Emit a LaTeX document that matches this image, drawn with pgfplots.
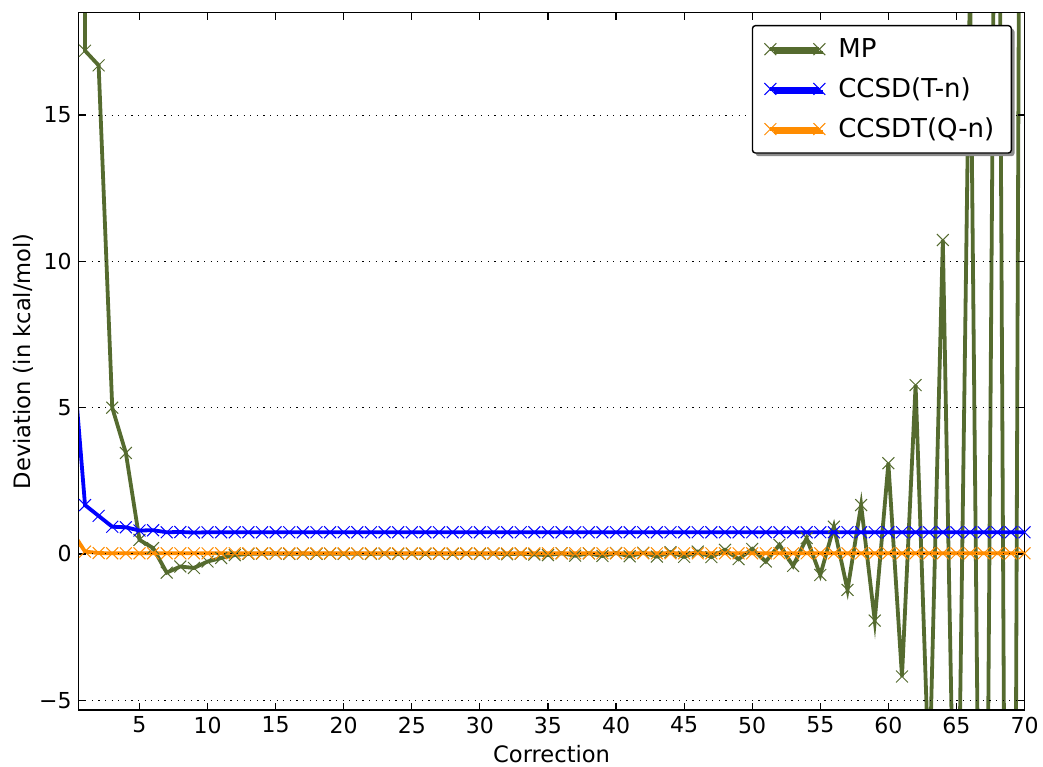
\documentclass[border=0pt]{standalone}
\usepackage{fontspec}
\setmainfont{DejaVu Sans}
\usepackage{pgfplots}
\usepackage{pgfplotstable}
\pgfplotsset{compat=1.18}
\usetikzlibrary{shadows}
\definecolor{mpgreen}{RGB}{85,107,47}
\definecolor{ccorange}{RGB}{255,140,0}

\pgfplotstableread{
x mp cc cq
0 200 7.4 0.8
1 17.2 1.67 0.08
2 16.7 1.30 0.03
3 5.0 0.93 0.02
4 3.45 0.91 0.02
5 0.48 0.80 0.02
6 0.20 0.81 0.02
7 -0.64 0.74 0.02
8 -0.43 0.75 0.02
9 -0.48 0.73 0.02
10 -0.26 0.74 0.02
11 -0.14 0.74 0.02
12 -0.04 0.74 0.02
13 0.00 0.74 0.02
14 0.01 0.74 0.02
15 0.01 0.74 0.02
16 0.00 0.74 0.02
17 0.01 0.74 0.02
18 0.00 0.74 0.02
19 0.01 0.74 0.02
20 0.00 0.74 0.02
21 0.01 0.74 0.02
22 0.00 0.74 0.02
23 0.01 0.74 0.02
24 0.00 0.74 0.02
25 0.01 0.74 0.02
26 0.00 0.74 0.02
27 0.01 0.74 0.02
28 0.00 0.74 0.02
29 0.01 0.74 0.02
30 0.00 0.74 0.02
31 0.01 0.74 0.02
32 -0.01 0.74 0.02
33 0.01 0.74 0.02
34 -0.02 0.74 0.02
35 -0.04 0.74 0.02
36 0.02 0.74 0.02
37 -0.06 0.74 0.02
38 0.02 0.74 0.02
39 -0.07 0.74 0.02
40 0.03 0.74 0.02
41 -0.08 0.74 0.02
42 0.04 0.74 0.02
43 -0.09 0.74 0.02
44 0.06 0.74 0.02
45 -0.10 0.74 0.02
46 0.08 0.74 0.02
47 -0.11 0.74 0.02
48 0.14 0.74 0.02
49 -0.18 0.74 0.02
50 0.17 0.74 0.02
51 -0.26 0.74 0.02
52 0.31 0.74 0.02
53 -0.41 0.74 0.02
54 0.54 0.74 0.02
55 -0.72 0.74 0.02
56 0.93 0.74 0.02
57 -1.23 0.74 0.02
58 1.67 0.74 0.02
59 -2.28 0.74 0.02
60 3.10 0.74 0.02
61 -4.19 0.74 0.02
62 5.77 0.74 0.02
63 -7.87 0.74 0.02
64 10.73 0.74 0.02
65 -14.6 0.74 0.02
66 19.9 0.74 0.02
67 -27.1 0.74 0.02
68 37.0 0.74 0.02
69 -50.4 0.74 0.02
70 68.7 0.74 0.02
}\datatable

\begin{document}
\begin{tikzpicture}
\begin{axis}[
  name=ax,
  scale only axis,
  width=473pt, height=348.65pt,
  xmin=0.535, xmax=70,
  ymin=-5.33, ymax=18.5,
  xtick={5,10,...,70},
  ytick={-5,0,5,10,15},
  yticklabels={−5,0,5,10,15},
  /pgf/number format/assume math mode=true,
  tick label style={font=\fontsize{11}{13}\selectfont},
  tick align=inside,
  tick pos=both,
  major tick length=3.5pt,
  tick style={black, line width=0.6pt},
  axis line style={black, line width=0.7pt},
  ymajorgrids,
  major grid style={black, line width=0.5pt, dash pattern=on 0.6pt off 2.7pt},
  axis on top,
  xlabel={Correction},
  ylabel={Deviation (in kcal/mol)},
  label style={font=\fontsize{11.3}{13}\selectfont},
  xlabel style={at={(axis description cs:0.5,-0.076)}, anchor=base},
  ylabel style={at={(axis description cs:-0.0514,0.5)}, anchor=base, rotate=0},
  legend cell align=left,
  legend image code/.code={%
    \draw[#1, mark=none] (0pt,0pt) -- (24.5pt,0pt);
    \path[#1, draw=none] plot coordinates {(0pt,0pt)};
    \path[#1, draw=none] plot coordinates {(24.5pt,0pt)};},
  legend style={at={(0.9868,0.9824)}, anchor=north east,
    draw=black, line width=0.7pt, rounded corners=1.5pt, fill=white,
    drop shadow={shadow xshift=1.6pt, shadow yshift=-1.6pt, fill=black!45, opacity=1},
    font=\fontsize{13}{15}\selectfont,
    inner xsep=6pt, inner ysep=3.8pt, row sep=3.7pt, column sep=4pt,
    nodes={inner sep=2.5pt}},
]
\addplot[mpgreen, line width=1.9pt, mark=x, mark size=4.2pt, mark options={solid, line width=0.5pt}] table[x=x, y=mp] {\datatable};
\addlegendentry{MP}
\addplot[blue, line width=1.9pt, mark=x, mark size=4.2pt, mark options={solid, line width=0.5pt}] table[x=x, y=cc] {\datatable};
\addlegendentry{CCSD(T-n)}
\addplot[ccorange, line width=1.9pt, mark=x, mark size=4.2pt, mark options={solid, line width=0.5pt}] table[x=x, y=cq] {\datatable};
\addlegendentry{CCSDT(Q-n)}
\end{axis}
\pgfresetboundingbox
\useasboundingbox ([shift={(-39.35pt,-28.5pt)}]ax.south west) rectangle ([shift={(9.25pt,6.35pt)}]ax.north east);
\end{tikzpicture}
\end{document}
